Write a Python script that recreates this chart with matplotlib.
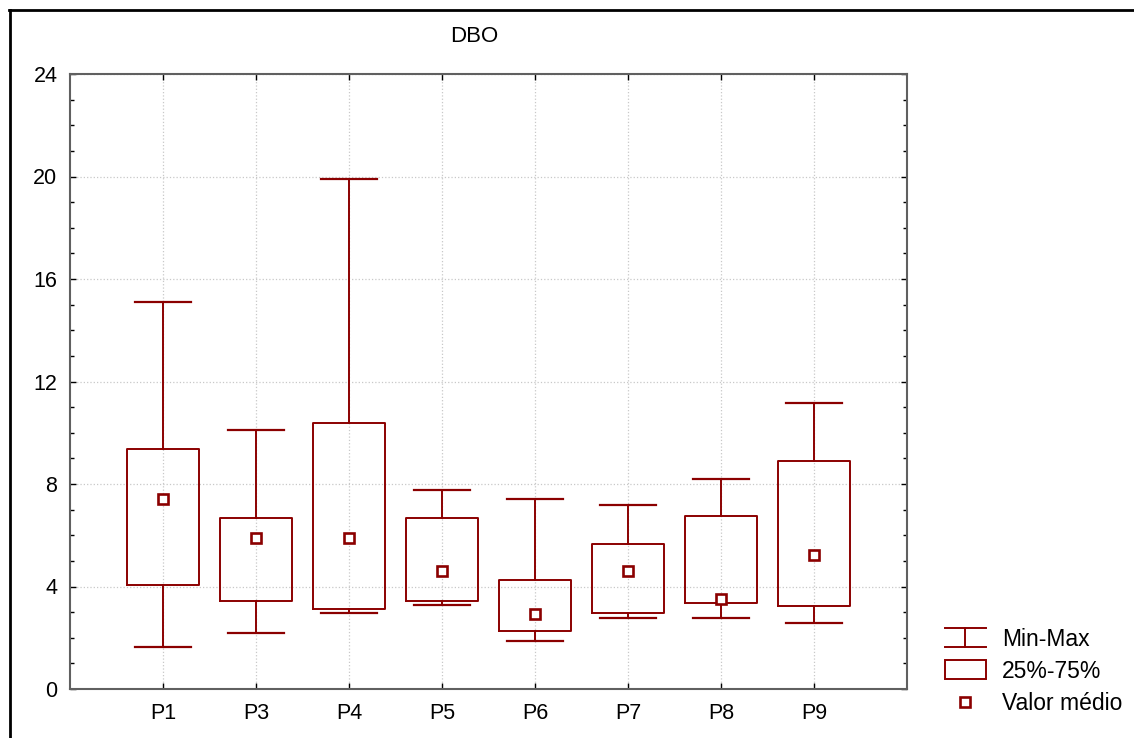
import matplotlib
matplotlib.use('Agg')
import matplotlib.pyplot as plt
from matplotlib.lines import Line2D
from matplotlib.patches import Rectangle

# dados (DBO por ponto de coleta)
pontos = ['P1', 'P3', 'P4', 'P5', 'P6', 'P7', 'P8', 'P9']
minimo = [1.65, 2.17, 2.98, 3.27, 1.88, 2.77, 2.77, 2.57]
q1 = [4.05, 3.44, 3.14, 3.44, 2.25, 2.96, 3.35, 3.24]
q3 = [9.37, 6.67, 10.38, 6.68, 4.26, 5.66, 6.77, 8.89]
maximo = [15.1, 10.09, 19.92, 7.78, 7.4, 7.18, 8.19, 11.18]
media = [7.41, 5.91, 5.91, 4.6, 2.92, 4.6, 3.52, 5.21]

yticks = [0, 4, 8, 12, 16, 20, 24]

cor = '#8b0000'
fs = 15.5
plt.rcParams['font.family'] = ['Liberation Sans', 'DejaVu Sans']

fig = plt.figure(figsize=(11.34, 7.38), dpi=100)
ax = fig.add_axes([70 / 1134, 49 / 738, 837 / 1134, 615 / 738])

stats = []
for i, p in enumerate(pontos):
    stats.append(dict(label=p, med=media[i], q1=q1[i], q3=q3[i],
                      whislo=minimo[i], whishi=maximo[i], mean=media[i], fliers=[]))

pos = list(range(1, len(pontos) + 1))
ax.bxp(stats, positions=pos, widths=0.78, capwidths=0.6, showmeans=True,
       showfliers=False,
       boxprops=dict(color=cor, linewidth=1.4),
       whiskerprops=dict(color=cor, linewidth=1.4),
       capprops=dict(color=cor, linewidth=1.6),
       medianprops=dict(linewidth=0),
       meanprops=dict(marker='s', markerfacecolor='white', markeredgecolor=cor,
                      markersize=7.5, markeredgewidth=1.9))

ax.set_xlim(0, 9)
ax.set_ylim(0, 24)
ax.set_xticks(pos)
ax.set_xticklabels(pontos)
ax.set_yticks(yticks)
ax.set_yticks([v for v in range(0, 25) if v % 4 != 0], minor=True)

ax.grid(True, which='major', linestyle=':', color='#c8c8c8', linewidth=0.9)
ax.set_axisbelow(True)

ax.tick_params(which='both', direction='in', top=True, right=True,
               labelsize=fs, colors='black')
ax.tick_params(axis='y', pad=9)
ax.tick_params(axis='x', pad=10)
ax.tick_params(which='major', length=4, width=1)
ax.tick_params(which='minor', length=3, width=1)
for s in ax.spines.values():
    s.set_color('#606060')
    s.set_linewidth(1.5)

fig.text(474 / 1134, 1 - 36 / 738, 'DBO', ha='center', va='center', fontsize=16)

# moldura da figura (topo e esquerda)
fig.add_artist(Line2D([9 / 1134, 1], [1 - 9.5 / 738, 1 - 9.5 / 738], color='black', linewidth=2))
fig.add_artist(Line2D([9.5 / 1134, 9.5 / 1134], [0, 1 - 9.5 / 738], color='black', linewidth=2))

# legenda desenhada à mão em coordenadas de pixel
lg = fig.add_axes([0, 0, 1, 1], facecolor='none')
lg.set_xlim(0, 1134)
lg.set_ylim(738, 0)
lg.axis('off')
lg.plot([945, 986], [628, 628], color=cor, linewidth=1.4)
lg.plot([945, 986], [647, 647], color=cor, linewidth=1.4)
lg.plot([965, 965], [628, 647], color=cor, linewidth=1.4)
lg.add_patch(Rectangle((945, 660), 41, 19, fill=False, edgecolor=cor, linewidth=1.4))
lg.plot([964.5], [702], marker='s', markerfacecolor='white', markeredgecolor=cor,
        markersize=7.5, markeredgewidth=1.9)
for y, t in zip([639, 671, 704], ['Min-Max', '25%-75%', 'Valor médio']):
    lg.text(1002, y, t, fontsize=16.5, va='center', ha='left')

fig.savefig('out.png', dpi=100)
